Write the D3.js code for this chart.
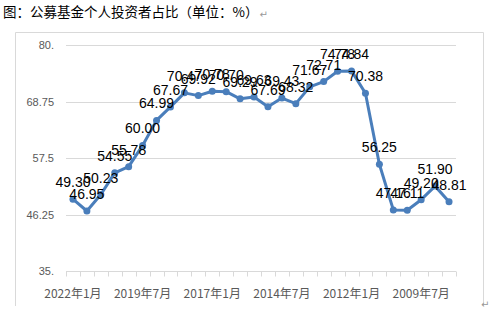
<!DOCTYPE html>
<html>
<head>
<meta charset="utf-8">
<script src="https://cdn.jsdelivr.net/npm/d3@7"></script>
<style>
  body { margin: 0; background: #fff; }
  svg { display: block; }
</style>
</head>
<body>
<svg id="chart" width="492" height="314"></svg>
<script>
// half-year dates, newest first (as in the source chart)
var categories = ["2022年1月","2021年7月","2021年1月","2020年7月","2020年1月","2019年7月",
                  "2019年1月","2018年7月","2018年1月","2017年7月","2017年1月","2016年7月",
                  "2016年1月","2015年7月","2015年1月","2014年7月","2014年1月","2013年7月",
                  "2013年1月","2012年7月","2012年1月","2011年7月","2011年1月","2010年7月",
                  "2010年1月","2009年7月","2009年1月","2008年7月"];
var values = [49.30, 46.95, 50.23, 54.55, 55.78, 60.00, 64.99, 67.67, 70.47, 69.92,
              70.78, 70.70, 69.29, 69.63, 67.69, 69.43, 68.32, 71.67, 72.71, 74.78,
              74.84, 70.38, 56.25, 47.16, 47.11, 49.20, 51.90, 48.81];
var yTicks = [35, 46.25, 57.5, 68.75, 80];
var yTickLabels = ["35.", "46.25", "57.5", "68.75", "80."];
var shownLabels = [0, 5, 10, 15, 20, 25];

var svg = d3.select("#chart");
var blue = "#4a7ebb", grid = "#d9d9d9", axisText = "#595959";

// title
var title = svg.append("text")
  .attr("x", 3).attr("y", 17)
  .attr("font-family", "Noto Sans CJK SC")
  .attr("font-size", "13.5px")
  .attr("fill", "#000")
  .text("图：公募基金个人投资者占比（单位：%）");
svg.append("text")
  .attr("x", 3 + title.node().getComputedTextLength() + 1).attr("y", 18)
  .attr("font-family", "DejaVu Sans")
  .attr("font-size", "10px")
  .attr("fill", "#999")
  .text("↵");

// chart frame (left, top, right)
svg.append("path")
  .attr("d", "M15.5,306 V32.5 H483.5 V306")
  .attr("fill", "none")
  .attr("stroke", grid)
  .attr("stroke-width", 1);
svg.append("text")
  .attr("x", 481).attr("y", 308)
  .attr("font-family", "DejaVu Sans")
  .attr("font-size", "10px")
  .attr("fill", "#999")
  .text("↵");

var x = d3.scaleBand().domain(categories).range([66, 456]);
var y = d3.scaleLinear().domain([35, 80]).range([271, 45]);

// gridlines
svg.append("g").selectAll("line")
  .data(yTicks.slice(1))
  .enter().append("line")
    .attr("x1", 66).attr("x2", 456)
    .attr("y1", function(d) { return Math.round(y(d)) + 0.5; })
    .attr("y2", function(d) { return Math.round(y(d)) + 0.5; })
    .attr("stroke", grid);

// y labels
svg.append("g").selectAll("text")
  .data(yTicks)
  .enter().append("text")
    .attr("x", 54)
    .attr("y", function(d) { return y(d) + 4; })
    .attr("text-anchor", "end")
    .attr("font-family", "Liberation Sans")
    .attr("font-size", "11px")
    .attr("fill", axisText)
    .text(function(d, i) { return yTickLabels[i]; });

// x axis
var xAxis = svg.append("g")
  .attr("transform", "translate(0," + (Math.round(y(35)) + 0.5) + ")");
xAxis.append("line")
  .attr("x1", 66).attr("x2", 456)
  .attr("stroke", grid);
var edges = categories.map(function(c) { return x(c); }).concat([456]);
xAxis.selectAll("line.tick")
  .data(edges)
  .enter().append("line")
    .attr("class", "tick")
    .attr("x1", function(d) { return Math.round(d) + 0.5; })
    .attr("x2", function(d) { return Math.round(d) + 0.5; })
    .attr("y1", 0).attr("y2", 5)
    .attr("stroke", grid);
xAxis.selectAll("text")
  .data(shownLabels)
  .enter().append("text")
    .attr("x", function(i) { return x(categories[i]) + x.bandwidth() / 2; })
    .attr("y", 26)
    .attr("text-anchor", "middle")
    .attr("font-family", "Noto Sans CJK SC")
    .attr("font-size", "12px")
    .attr("fill", axisText)
    .text(function(i) { return categories[i]; });

var cx = function(d, i) { return x(categories[i]) + x.bandwidth() / 2; };

// line
svg.append("path")
  .datum(values)
  .attr("fill", "none")
  .attr("stroke", blue)
  .attr("stroke-width", 3)
  .attr("stroke-linejoin", "round")
  .attr("d", d3.line().x(cx).y(function(d) { return y(d); }));

svg.append("g").selectAll("circle")
  .data(values)
  .enter().append("circle")
    .attr("cx", cx)
    .attr("cy", function(d) { return y(d); })
    .attr("r", 3.5)
    .attr("fill", blue);

// data labels (they overlap in the original too)
svg.append("g").selectAll("text")
  .data(values)
  .enter().append("text")
    .attr("x", cx)
    .attr("y", function(d) { return y(d) - 12; })
    .attr("text-anchor", "middle")
    .attr("font-family", "Liberation Sans")
    .attr("font-size", "14px")
    .attr("fill", "#000")
    .text(function(d) { return d.toFixed(2); });
</script>
</body>
</html>
